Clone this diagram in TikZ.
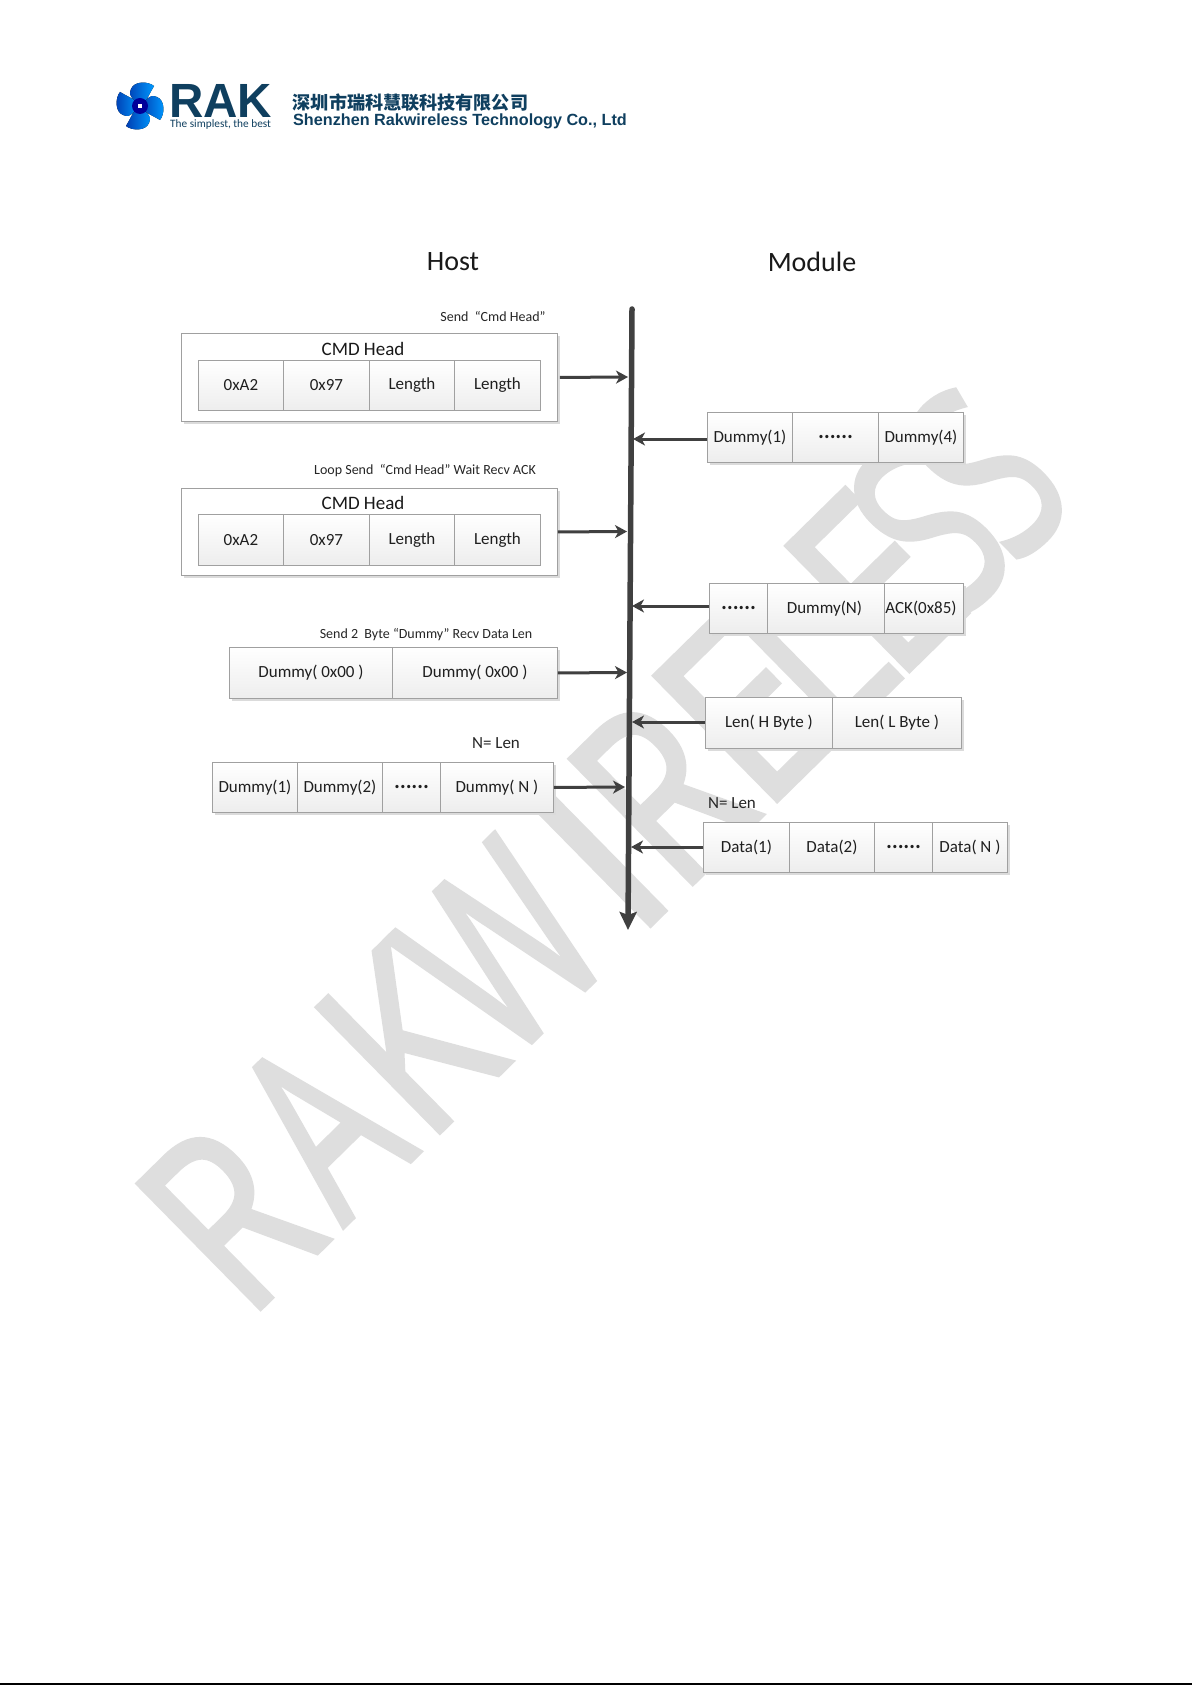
\documentclass[tikz,border=0pt]{standalone}
\usepackage{fontspec}
\setmainfont{Carlito}
\newfontfamily\cjk{Noto Sans CJK SC}
\newfontfamily\wmfont[FakeBold=2]{Open Sans}
\newfontfamily\logofont{Liberation Sans}
\usetikzlibrary{shadows,arrows.meta,calc}
\definecolor{wmgray}{HTML}{DEDEDE}
\definecolor{lineC}{HTML}{404040}
\definecolor{edgeC}{HTML}{A0A0A0}
\definecolor{navy}{HTML}{0F3F5F}
\tikzset{
  rowbox/.style={draw=edgeC,line width=.9pt,fill=white,anchor=north west,inner sep=0pt,
    drop shadow={shadow xshift=2.5pt,shadow yshift=-2.5pt,fill=black!14,opacity=1}},
  cell/.style={draw=edgeC,line width=.9pt,top color=white,bottom color=black!7,anchor=north west,inner sep=0pt,
    font=\fontsize{17}{18}\selectfont,text=black!88},
  arr/.style={draw=lineC,line width=3pt,-{Stealth[length=12pt,width=13pt,inset=3.5pt]}},
  smalltxt/.style={font=\fontsize{14}{15}\selectfont,text=black!85,inner sep=0pt},
  headtxt/.style={font=\fontsize{28}{30}\selectfont,text=black!90,inner sep=0pt},
  cmdtxt/.style={font=\fontsize{19}{20}\selectfont,text=black!90,inner sep=0pt},
  ntxt/.style={font=\fontsize{17}{18}\selectfont,text=black!85,inner sep=0pt},
}
\newcommand{\dotsrow}{{\cjk\bfseries\fontsize{15.5}{18}\selectfont ……}}
% position along the baseline of the watermark, letter, horizontal scale
\newcommand{\wm}[3]{\node[anchor=base,inner sep=0pt,rotate=44.5,text=wmgray,xscale=#3,transform shape] at ({262+.713*#1},{1307-.701*#1}) {\wmfont\fontsize{245}{245}\selectfont #2};}
\begin{document}
\begin{tikzpicture}[x=1pt,y=-1pt]
\useasboundingbox (0,0) rectangle (1192,1685);
\fill[white] (0,0) rectangle (1192,1685);
\draw[black,line width=1.3pt] (0,1684) -- (1192,1684);
% watermark
\wm{39}{R}{.8}
\wm{168}{A}{.7}
\wm{290}{K}{.8}
\wm{422}{W}{.7}
\wm{555}{I}{1}
\wm{645}{R}{.8}
\wm{762}{E}{.9}
\wm{851}{L}{.8}
\wm{945}{E}{.85}
\wm{1022}{S}{.7}
\wm{1102}{S}{.7}
% logo
\begin{scope}[shift={(140,106)}]
\foreach \a in {0,90,180,270}{
  \begin{scope}[rotate=\a]
  \fill[left color=blue!65!cyan!70!black,right color=cyan!60!blue] (0,0) .. controls (-4,-6) and (-13,-8) .. (-9,-17) .. controls (-6,-25) and (8,-25) .. (14,-20) .. controls (10,-14) and (8,-6) .. (0,0) -- cycle;
  \end{scope}
}
\fill[blue!60!black] (0,0) circle (8);
\fill[white] (-2,-2) rectangle (2,2);
\end{scope}
\node[anchor=base west,inner sep=0pt,text=navy,xscale=.99,transform shape] (rak) at (169,118) {\logofont\bfseries\fontsize{48}{48}\selectfont RAK};
\node[anchor=base west,inner sep=0pt,text=navy] (slogan) at (170,128) {\fontsize{11.3}{12}\selectfont The simplest, the best};
\node[anchor=center,inner sep=0pt,text=navy] (cn) at (410.5,103) {\cjk\fontsize{18.1}{19}\selectfont\bfseries 深圳市瑞科慧联科技有限公司};
\node[anchor=center,inner sep=0pt,text=navy] (en) at (460,121) {\logofont\bfseries\fontsize{16.2}{17}\selectfont Shenzhen Rakwireless Technology Co., Ltd};
% headings
\node[headtxt] (host) at (453,261.5) {Host};
\node[headtxt] (module) at (812,261.5) {Module};
% timeline
\coordinate (tlTop) at (632,309);
\coordinate (tlEnd) at (628,930);
\draw[draw=lineC,line width=5.5pt,line cap=round,-{Stealth[length=18pt,width=17pt,inset=3pt]}] (tlTop) -- (tlEnd);
% host rows
\node[smalltxt] (l1) at (493,316.5) {Send~~“Cmd Head”};
\node[rowbox,minimum width=376pt,minimum height=88pt] (cmdA) at (181,333) {};
\node[cmdtxt] (cmdAt) at (363,349) {CMD Head};
\node[cell,minimum width=85pt,minimum height=50pt] (a1) at (198,360) {0xA2};
\node[cell,minimum width=86pt,minimum height=50pt] (a2) at (283,360) {0x97};
\node[cell,minimum width=85pt,minimum height=50pt] (a3) at (369,360) {Length};
\node[cell,minimum width=86pt,minimum height=50pt] (a4) at (454,360) {Length};
\coordinate (pA) at (628,377);
\draw[arr] ([xshift=2pt]cmdA.east) -- (pA);
\node[smalltxt] (l2) at (425,471) {Loop Send~~“Cmd Head”~Wait Recv ACK};
\node[rowbox,minimum width=376pt,minimum height=87pt] (cmdB) at (181,488) {};
\node[cmdtxt] (cmdBt) at (363,503) {CMD Head};
\node[cell,minimum width=85pt,minimum height=51pt] (b1) at (198,514) {0xA2};
\node[cell,minimum width=86pt,minimum height=51pt] (b2) at (283,514) {0x97};
\node[cell,minimum width=85pt,minimum height=51pt] (b3) at (369,514) {Length};
\node[cell,minimum width=86pt,minimum height=51pt] (b4) at (454,514) {Length};
\coordinate (pB) at (627,531.5);
\draw[arr] (cmdB.east) -- (pB);
\node[smalltxt] (l3) at (426,635) {Send 2~~Byte~“Dummy”~Recv Data Len};
\node[rowbox,minimum width=328pt,minimum height=51pt] (rowC) at (229,647) {};
\node[cell,minimum width=163pt,minimum height=51pt] (c1) at (229,647) {Dummy( 0x00 )};
\node[cell,minimum width=165pt,minimum height=51pt] (c2) at (392,647) {Dummy( 0x00 )};
\coordinate (pC) at (627,672.5);
\draw[arr] (rowC.east) -- (pC);
\node[ntxt] (l4) at (496,743.5) {N= Len};
\node[rowbox,minimum width=341pt,minimum height=50pt] (rowD) at (212,762) {};
\node[cell,minimum width=85pt,minimum height=50pt] (d1) at (212,762) {Dummy(1)};
\node[cell,minimum width=85pt,minimum height=50pt] (d2) at (297,762) {Dummy(2)};
\node[cell,minimum width=58pt,minimum height=50pt] (d3) at (382,762) {\dotsrow};
\node[cell,minimum width=113pt,minimum height=50pt] (d4) at (440,762) {Dummy( N )};
\coordinate (pD) at (625,787);
\draw[arr] (rowD.east) -- (pD);
% module rows
\node[rowbox,minimum width=256pt,minimum height=50pt] (rowE) at (707,412) {};
\node[cell,minimum width=85pt,minimum height=50pt] (e1) at (707,412) {Dummy(1)};
\node[cell,minimum width=86pt,minimum height=50pt] (e2) at (792,412) {\dotsrow};
\node[cell,minimum width=85pt,minimum height=50pt] (e3) at (878,412) {Dummy(4)};
\coordinate (pE) at (633,439);
\draw[arr] (rowE.west |- pE) -- (pE);
\node[rowbox,minimum width=254pt,minimum height=50pt] (rowF) at (709,583) {};
\node[cell,minimum width=58pt,minimum height=50pt] (f1) at (709,583) {\dotsrow};
\node[cell,minimum width=117pt,minimum height=50pt] (f2) at (767,583) {Dummy(N)\kern3pt};
\node[cell,minimum width=79pt,minimum height=50pt] (f3) at (884,583) {ACK(0x85)\kern6pt};
\coordinate (pF) at (632,606);
\draw[arr] (rowF.west |- pF) -- (pF);
\node[rowbox,minimum width=256pt,minimum height=51pt] (rowG) at (705,697) {};
\node[cell,minimum width=127pt,minimum height=51pt] (g1) at (705,697) {Len( H Byte )};
\node[cell,minimum width=129pt,minimum height=51pt] (g2) at (832,697) {Len( L Byte )};
\coordinate (pG) at (632,722);
\draw[arr] (rowG.west |- pG) -- (pG);
\node[ntxt] (l5) at (732,803.5) {N= Len};
\node[rowbox,minimum width=304pt,minimum height=50pt] (rowH) at (703,822) {};
\node[cell,minimum width=86pt,minimum height=50pt] (h1) at (703,822) {Data(1)};
\node[cell,minimum width=85pt,minimum height=50pt] (h2) at (789,822) {Data(2)};
\node[cell,minimum width=58pt,minimum height=50pt] (h3) at (874,822) {\dotsrow};
\node[cell,minimum width=75pt,minimum height=50pt] (h4) at (932,822) {Data( N )};
\coordinate (pH) at (631,847);
\draw[arr] (rowH.west |- pH) -- (pH);
\end{tikzpicture}
\end{document}
